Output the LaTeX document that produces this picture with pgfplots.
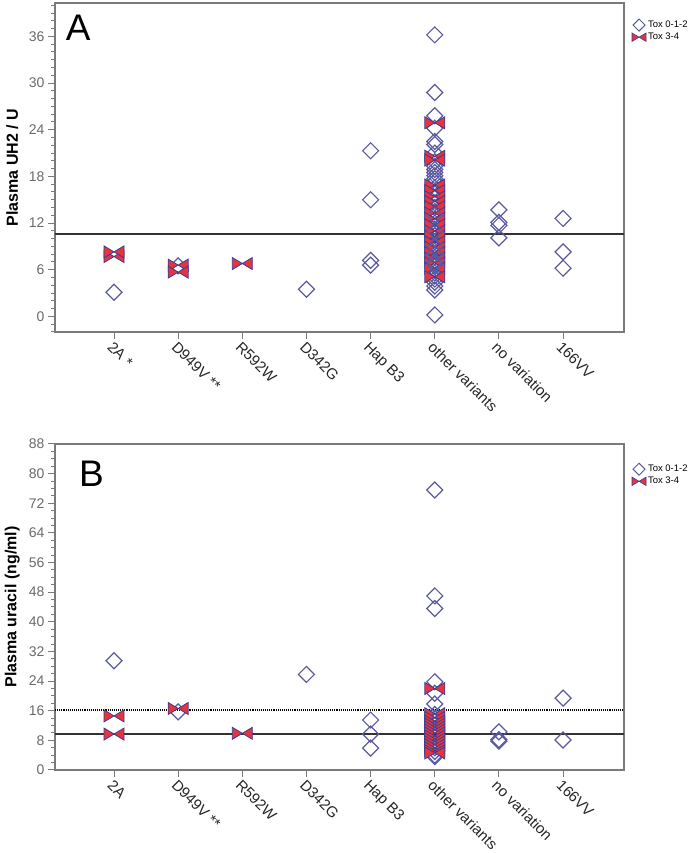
\documentclass[border=0pt]{standalone}
\usepackage{pgfplots}
\pgfplotsset{compat=1.18}
\usepackage{fontspec}
\setmainfont{Liberation Sans}
\definecolor{dblue}{HTML}{5A5AA2}
\definecolor{bedge}{HTML}{3C3C8E}
\definecolor{bred}{HTML}{E8333E}
\definecolor{axgray}{HTML}{7A7A7A}
\definecolor{tgray}{HTML}{6A6A6A}

\pgfdeclareplotmark{sqdiamond}{%
  \pgfpathmoveto{\pgfqpoint{\pgfplotmarksize}{0pt}}%
  \pgfpathlineto{\pgfqpoint{0pt}{\pgfplotmarksize}}%
  \pgfpathlineto{\pgfqpoint{-\pgfplotmarksize}{0pt}}%
  \pgfpathlineto{\pgfqpoint{0pt}{-\pgfplotmarksize}}%
  \pgfpathclose\pgfusepathqstroke}
\pgfdeclareplotmark{bowtie}{%
  \pgfpathmoveto{\pgfpoint{-\pgfplotmarksize}{0.6*\pgfplotmarksize}}%
  \pgfpathlineto{\pgfpointorigin}%
  \pgfpathlineto{\pgfpoint{-\pgfplotmarksize}{-0.6*\pgfplotmarksize}}%
  \pgfpathclose
  \pgfpathmoveto{\pgfpoint{\pgfplotmarksize}{0.6*\pgfplotmarksize}}%
  \pgfpathlineto{\pgfpointorigin}%
  \pgfpathlineto{\pgfpoint{\pgfplotmarksize}{-0.6*\pgfplotmarksize}}%
  \pgfpathclose
  \pgfusepathqfillstroke}

\pgfplotsset{
  panel/.style={
    scale only axis,
    width=569pt,
    xmin=-0.92, xmax=7.95,
    xtick={0,...,7},
    xtick pos=bottom, ytick pos=left,
    tick align=outside,
    major tick length=7pt,
    minor tick length=4pt,
    axis line style={axgray, line width=1.3pt},
    every tick/.style={axgray, line width=1pt},
    /pgf/number format/assume math mode=true,
    yticklabel style={font=\fontsize{14}{14}\selectfont, text=tgray},
    xticklabel style={font=\fontsize{15}{15}\selectfont, text=black!85, rotate=-45, anchor=north west, inner sep=1pt},
    ylabel style={font=\bfseries\fontsize{16}{16}\selectfont, at={(axis description cs:-0.075,0.5)}, anchor=center},
    legend style={draw=none, fill=none, font=\fontsize{9.5}{10}\selectfont, legend cell align=left, row sep=0pt, inner sep=1pt},
    clip=false,
  },
  tlo/.style={only marks, mark=sqdiamond, mark size=8pt, draw=dblue, line width=1.2pt,
     every legend image post/.style={mark size=6pt, line width=1pt}},
  thi/.style={only marks, mark=bowtie, mark size=10pt, draw=bedge, fill=bred, line width=0.8pt,
     every legend image post/.style={mark size=7pt, line width=0.6pt}},
}

\begin{document}
\begin{tikzpicture}
\useasboundingbox (0pt,0pt) rectangle (700pt,853pt);

% ---------------- Panel A ----------------
\begin{axis}[panel,
  at={(55pt,521pt)}, anchor=south west,
  height=329pt,
  ymin=-2, ymax=40.3,
  ytick={0,6,12,18,24,30,36},
  minor ytick={-2,-1,...,40},
  xticklabels={2A *, D949V **, R592W, D342G, Hap B3, other variants, no variation, 166VV},
  ylabel={Plasma UH2 / U},
  legend style={at={(1.012,0.955)}, anchor=north west},
]
\addplot[tlo] coordinates {
 (0,3.1) (1,6.5) (3,3.5)
 (4,21.3) (4,15.0) (4,7.2) (4,6.6)
 (5,36.2) (5,28.8) (5,25.8) (5,24.2) (5,22.5) (5,22.1) (5,21.0) (5,19.9)
 (5,19.3) (5,18.9) (5,18.5) (5,18.1) (5,17.7) (5,17.3) (5,16.5) (5,15.8)
 (5,15.2) (5,14.6) (5,14.0) (5,13.5) (5,13.0) (5,12.5) (5,12.0) (5,11.6)
 (5,11.2) (5,10.8) (5,10.4) (5,10.0) (5,9.6) (5,9.2) (5,8.8) (5,8.4)
 (5,8.0) (5,7.6) (5,7.2) (5,6.8) (5,6.4) (5,6.0) (5,5.6) (5,5.2)
 (5,4.8) (5,4.4) (5,3.9) (5,3.4) (5,0.2)
 (6,13.7) (6,12.1) (6,11.7) (6,10.1)
 (7,12.6) (7,8.3) (7,6.2)
};
\addlegendentry{Tox 0-1-2}
\addplot[thi] coordinates {
 (0,7.7) (0,8.3) (1,6.6) (1,5.7) (2,6.8)
 (5,24.9) (5,20.6) (5,20.1) (5,16.9) (5,16.2) (5,15.4) (5,14.8) (5,14.1)
 (5,13.3) (5,12.6) (5,11.8) (5,11.0) (5,10.3) (5,9.6) (5,8.9) (5,8.2)
 (5,7.5) (5,6.9) (5,6.2) (5,5.1)
};
\addlegendentry{Tox 3-4}
\addplot[tlo, forget plot] coordinates {
 (5,13.0) (5,11.0) (5,9.0) (5,8.0) (5,7.0) (5,6.6)
};
\addplot[black!80, line width=1.3pt, forget plot] coordinates {(-0.92,10.6) (7.95,10.6)};
\node[font=\fontsize{37}{37}\selectfont, anchor=center] at (axis description cs:0.041,0.925) {A};
\end{axis}

% ---------------- Panel B ----------------
\begin{axis}[panel,
  at={(55pt,83pt)}, anchor=south west,
  height=326pt,
  ymin=0, ymax=88,
  ytick={0,8,...,88},
  minor ytick={0,2,...,88},
  xticklabels={2A, D949V **, R592W, D342G, Hap B3, other variants, no variation, 166VV},
  ylabel={Plasma uracil (ng/ml)},
  legend style={at={(1.012,0.945)}, anchor=north west},
]
\addplot[tlo] coordinates {
 (0,29.5) (1,15.7) (3,25.8)
 (4,13.5) (4,9.7) (4,5.9)
 (5,75.6) (5,47.0) (5,43.6) (5,23.8) (5,20.7) (5,17.8)
 (5,15.0) (5,14.0) (5,13.0) (5,12.0) (5,11.0) (5,10.0) (5,9.0) (5,8.0)
 (5,7.0) (5,6.0) (5,5.0) (5,4.0) (5,3.6)
 (6,10.3) (6,8.2) (6,7.8)
 (7,19.4) (7,8.1)
};
\addlegendentry{Tox 0-1-2}
\addplot[thi] coordinates {
 (0,14.6) (0,9.7) (1,16.6) (2,9.9)
 (5,22.0) (5,15.2) (5,14.2) (5,13.2) (5,12.4) (5,11.6) (5,10.8) (5,10.0)
 (5,9.2) (5,8.4) (5,7.6) (5,6.8) (5,6.0) (5,5.2) (5,4.6)
};
\addlegendentry{Tox 3-4}
\addplot[black!80, line width=1.3pt, forget plot] coordinates {(-0.92,9.7) (7.95,9.7)};
\addplot[black, line width=1.1pt, densely dotted, forget plot] coordinates {(-0.92,16.2) (7.95,16.2)};
\node[font=\fontsize{37}{37}\selectfont, anchor=center] at (axis description cs:0.064,0.91) {B};
\end{axis}
\end{tikzpicture}
\end{document}
